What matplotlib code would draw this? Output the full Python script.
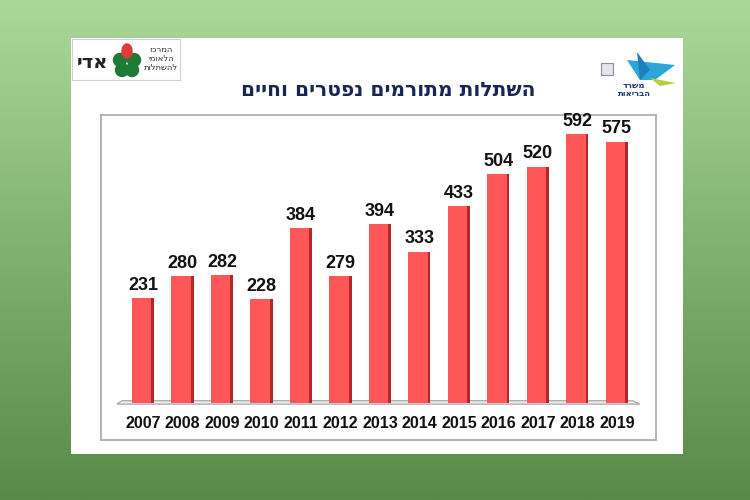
import numpy as np
import matplotlib
matplotlib.use('Agg')
import matplotlib.pyplot as plt
from matplotlib.patches import Rectangle, Polygon, Circle, Ellipse

# datos
years = ['2007', '2008', '2009', '2010', '2011', '2012', '2013',
         '2014', '2015', '2016', '2017', '2018', '2019']
transplants = [231, 280, 282, 228, 384, 279, 394, 333, 433, 504, 520, 592, 575]

title = 'השתלות מתורמים נפטרים וחיים'
logo_left_name = 'אדי'
logo_left_lines = ['המרכז', 'הלאומי', 'להשתלות']
logo_right_lines = ['משרד', 'הבריאות']


def rtl(s):
    # matplotlib no hace bidi: invertimos el texto hebreo
    return s[::-1]


plt.rcParams['font.family'] = ['Liberation Sans', 'DejaVu Sans']

fig = plt.figure(figsize=(7.5, 5), dpi=100)

# ---- fondo y tarjeta (coordenadas en pixeles) ----
bg = fig.add_axes([0, 0, 1, 1])
bg.set_xlim(0, 750)
bg.set_ylim(500, 0)
bg.axis('off')

top = np.array([170, 216, 152]) / 255
bottom = np.array([88, 138, 72]) / 255
t = np.linspace(0, 1, 256)[:, None]
grad = (top[None, :] * (1 - t) + bottom[None, :] * t)[:, None, :]
bg.imshow(grad, extent=[0, 750, 500, 0], aspect='auto', zorder=0)

bg.add_patch(Rectangle((71, 38), 612, 416, facecolor='white', edgecolor='none', zorder=1))

# logo izquierdo
bg.add_patch(Rectangle((72, 39), 108, 41, facecolor='white', edgecolor='#d0d0d0', lw=0.8, zorder=2))
bg.text(92, 63, rtl(logo_left_name), fontsize=14, fontweight='bold', ha='center', va='center',
        family='DejaVu Sans', color='#222222', zorder=3)
for dx, dy in [(-7, -2), (7, -2), (-5, 8), (5, 8)]:
    bg.add_patch(Circle((127 + dx, 62 + dy), 6.5, color='#1f7a35', zorder=3))
bg.add_patch(Ellipse((127, 51), 10, 14, color='#e03a3a', zorder=4))
for k, line in enumerate(logo_left_lines):
    bg.text(161, 50 + k * 8.5, rtl(line), fontsize=6, ha='center', va='center',
            family='DejaVu Sans', color='#333333', zorder=3)

# logo derecho
bg.add_patch(Rectangle((601, 63), 12, 12, facecolor='#e4e4ee', edgecolor='#8a8aa0', lw=0.8, zorder=2))
bg.add_patch(Polygon([(627, 60), (675, 65), (655, 80), (640, 80)], closed=True,
                     facecolor='#2aa6d8', edgecolor='none', zorder=2))
bg.add_patch(Polygon([(637, 52), (650, 70), (640, 80)], closed=True,
                     facecolor='#1b7fc0', edgecolor='none', zorder=3))
bg.add_patch(Polygon([(650, 78), (676, 83), (660, 86)], closed=True,
                     facecolor='#b5d336', edgecolor='none', zorder=3))
for k, line in enumerate(logo_right_lines):
    bg.text(634, 85 + k * 8, rtl(line), fontsize=6, fontweight='bold', ha='center', va='center',
            family='DejaVu Sans', color='#1d3b6e', zorder=3)

# titulo
bg.text(388, 90, rtl(title), fontsize=14.5, fontweight='bold', ha='center', va='center',
        family='DejaVu Sans', color='#1a2456', zorder=3)

# ---- grafica de barras ----
ax = fig.add_axes([101 / 750, 60 / 500, 555 / 750, 325 / 500])
ax.set_facecolor('white')
ax.set_xlim(-1.063, 12.99)
ax.set_ylim(-81.4, 633.6)
for s in ax.spines.values():
    s.set_color('#a8a8a8')
    s.set_linewidth(1.2)
ax.set_xticks([])
ax.set_yticks([])

x = np.arange(len(years))
w = 0.56
shade = 0.07

# suelo 3D
ax.add_patch(Polygon([(-0.53, 5), (12.4, 5), (12.58, -2.5), (-0.66, -2.5)], closed=True,
                     facecolor='#ececec', edgecolor='#a0a0a0', lw=0.8, zorder=1))

ax.bar(x, transplants, width=w, color='#ff5757', zorder=2)
ax.bar(x + w / 2 - shade / 2, transplants, width=shade, color='#b02828', zorder=3)

for xi, v in zip(x, transplants):
    ax.annotate(str(v), (xi, v), xytext=(0, 3), textcoords='offset points',
                ha='center', va='bottom', fontsize=13, fontweight='bold', color='#111111')

for xi, yr in zip(x, years):
    ax.text(xi, -44, yr, ha='center', va='center', fontsize=11.5, fontweight='bold', color='#111111')

fig.savefig('out.png', dpi=100)
